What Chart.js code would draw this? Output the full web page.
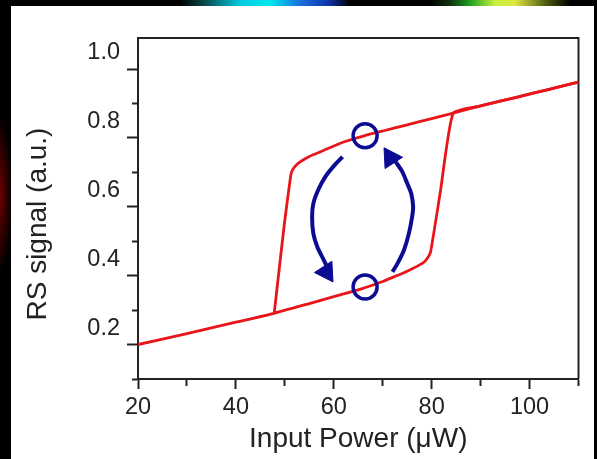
<!DOCTYPE html>
<html>
<head>
<meta charset="utf-8">
<script src="https://cdn.jsdelivr.net/npm/chart.js@4.4.1/dist/chart.umd.min.js"></script>
<style>
  html, body { margin: 0; padding: 0; background: #000; }
  body { width: 597px; height: 459px; position: relative; overflow: hidden; }
  #strip {
    position: absolute; left: 0; top: 0; width: 597px; height: 6px;
    background: linear-gradient(to right, #000 0px, #000 180px, #0a3a3a 200px, #00c8e0 240px, #00e8f0 270px,
      #1a70e0 300px, #1030a0 330px, #000 350px, #000 430px, #103010 450px, #20a020 470px,
      #c8f040 495px, #e0e840 515px, #506010 545px, #000 570px);
  }
  #glow {
    position: absolute; left: 0; top: 120px; width: 11px; height: 150px;
    background: radial-gradient(ellipse at left center, rgba(120, 0, 0, 0.9), rgba(0, 0, 0, 0) 75%);
  }
  #panel { position: absolute; left: 11px; top: 6px; width: 583px; height: 453px; background: #fff; }
</style>
</head>
<body>
<div id="strip"></div>
<div id="glow"></div>
<div id="panel"><canvas id="chart" width="583" height="453"></canvas></div>
<script>
// forward sweep (increasing power): lower branch, jump up near 80-84 uW
const upX = [20, 30, 40, 47.6, 55, 60, 65.5, 70, 72.2, 75, 78.3, 79.2, 79.8, 81.8, 84.4, 90, 97.1, 104, 110];
const upY = [0.200, 0.232, 0.265, 0.290, 0.319, 0.339, 0.361, 0.383, 0.396, 0.413, 0.438, 0.452, 0.470, 0.646, 0.872, 0.893, 0.917, 0.941, 0.962];

// backward sweep (decreasing power): upper branch, drop near 52-48 uW
const downX = [110, 104, 97.1, 90, 84.4, 80, 75, 70, 66.2, 62, 58, 55, 53.4, 52.4, 51.6, 51.2, 49.9, 47.85];
const downY = [0.962, 0.941, 0.917, 0.893, 0.872, 0.856, 0.838, 0.820, 0.806, 0.788, 0.764, 0.746, 0.733, 0.722, 0.708, 0.690, 0.550, 0.293];

// the two marked states
const markX = [66.4, 66.4];
const markY = [0.806, 0.367];

// switching arrows (shaft paths and heads)
const arrowDownX = [61.80, 60.16, 58.26, 56.78, 55.83, 55.57, 55.83, 56.64, 57.79, 58.66];
const arrowDownY = [0.745, 0.721, 0.687, 0.648, 0.610, 0.571, 0.522, 0.483, 0.450, 0.425];
const arrowUpX = [71.99, 73.00, 74.33, 75.34, 76.01, 76.21, 75.81, 75.00, 73.99, 72.63];
const arrowUpY = [0.411, 0.435, 0.474, 0.522, 0.571, 0.600, 0.639, 0.668, 0.702, 0.731];
const headX = [58.5, 71.6];
const headY = [0.411, 0.742];
const headAngle = [147, -33];

const xTicks = [20, 40, 60, 80, 100];
const yTicks = ["0.2", "0.4", "0.6", "0.8", "1.0"];

const pts = (xs, ys) => xs.map((x, i) => ({ x, y: ys[i] }));

const RED = "#e8151b";
const NAVY = "#0b0b94";
const INK = "#222";
const FONT = "'Liberation Sans', Arial, sans-serif";

const frame = {
  id: "frame",
  beforeDatasetsDraw(chart) {
    const { ctx, chartArea: a } = chart;
    ctx.save();
    ctx.strokeStyle = INK;
    ctx.lineWidth = 2;
    ctx.beginPath();
    ctx.moveTo(a.left, a.top);
    ctx.lineTo(a.right, a.top);
    ctx.lineTo(a.right, a.bottom);
    ctx.stroke();
    ctx.restore();
  },
};

new Chart(document.getElementById("chart"), {
  type: "scatter",
  data: {
    datasets: [
      { data: pts(headX, headY), pointStyle: "triangle", pointRadius: 12, pointRotation: headAngle,
        backgroundColor: NAVY, borderColor: NAVY, borderWidth: 1, showLine: false },
      { data: pts(markX, markY), pointStyle: "circle", pointRadius: 12, backgroundColor: "rgba(0,0,0,0)",
        borderColor: NAVY, borderWidth: 3.5, showLine: false },
      { data: pts(arrowDownX, arrowDownY), showLine: true, borderColor: NAVY, borderWidth: 4, tension: 0.3, pointRadius: 0 },
      { data: pts(arrowUpX, arrowUpY), showLine: true, borderColor: NAVY, borderWidth: 4, tension: 0.3, pointRadius: 0 },
      { data: pts(upX, upY), showLine: true, borderColor: RED, borderWidth: 2.8, tension: 0.15, pointRadius: 0 },
      { data: pts(downX, downY), showLine: true, borderColor: RED, borderWidth: 2.8, tension: 0.15, pointRadius: 0 },
    ],
  },
  options: {
    responsive: false,
    animation: false,
    layout: { padding: { top: 32, right: 11, left: 0, bottom: 0 } },
    plugins: { legend: { display: false }, tooltip: { enabled: false } },
    scales: {
      x: {
        type: "linear",
        position: "bottom",
        min: 20,
        max: 110,
        afterFit: (s) => { s.height = 80; },
        ticks: {
          stepSize: 10,
          autoSkip: false,
          maxRotation: 0,
          padding: 4,
          color: INK,
          font: { family: FONT, size: 23.5 },
          callback: (v) => (xTicks.includes(v) ? String(v) : ""),
        },
        grid: {
          drawOnChartArea: false,
          drawTicks: true,
          tickLength: 10,
          tickWidth: 2,
          tickColor: INK,
          tickBorderDash: (c) => (xTicks.includes(c.tick.value) ? [] : [6, 100]),
        },
        border: { color: INK, width: 2 },
        title: {
          display: true,
          text: "Input Power (\u03bcW)",
          color: INK,
          font: { family: FONT, size: 28 },
          padding: { top: 0, bottom: 3 },
        },
      },
      y: {
        type: "linear",
        min: 0.1,
        max: 1.09,
        afterFit: (s) => { s.width = 127; },
        ticks: {
          stepSize: 0.1,
          includeBounds: false,
          autoSkip: false,
          padding: 7,
          labelOffset: -16,
          color: INK,
          font: { family: FONT, size: 23.5 },
          callback: (v) => {
            const s = v.toFixed(1);
            return yTicks.includes(s) ? s : "";
          },
        },
        grid: {
          drawOnChartArea: false,
          drawTicks: true,
          tickLength: 11,
          tickWidth: 2,
          tickColor: INK,
          tickBorderDash: (c) => (yTicks.includes(c.tick.value.toFixed(1)) ? [] : [6, 5]),
          tickBorderDashOffset: (c) => (yTicks.includes(c.tick.value.toFixed(1)) ? 0 : 6),
        },
        border: { color: INK, width: 2 },
        title: {
          display: true,
          text: "RS signal (a.u.)\u00a0\u00a0\u00a0\u00a0",
          color: INK,
          font: { family: FONT, size: 28 },
          padding: { top: 10, bottom: 0 },
        },
      },
    },
  },
  plugins: [frame],
});
</script>
</body>
</html>
